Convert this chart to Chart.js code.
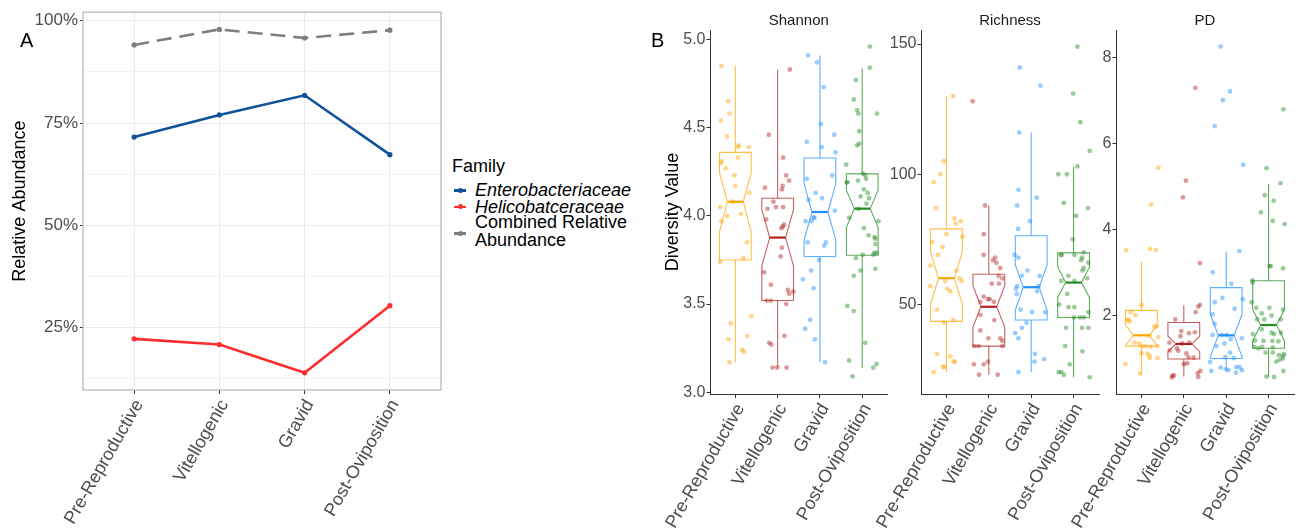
<!DOCTYPE html>
<html>
<head>
<meta charset="utf-8">
<script src="https://cdn.jsdelivr.net/npm/chart.js@4.4.1/dist/chart.umd.min.js"></script>
<style>
  body { margin: 0; background: #fff; width: 1298px; height: 528px; overflow: hidden; position: relative;
         font-family: "Liberation Sans", Arial, sans-serif; }
  canvas { position: absolute; top: 0; }
  .txt { position: absolute; white-space: nowrap; font-size: 18px; line-height: 18px; color: #000; }
  .tag { position: absolute; font-size: 20px; line-height: 20px; color: #000; }
  .key { position: absolute; left: 454px; width: 12px; height: 2.5px; }
  .key i { position: absolute; left: 3.5px; top: -1.5px; width: 5px; height: 5px; border-radius: 50%; background: inherit; }
</style>
</head>
<body>
<canvas id="chartA" style="left:0" width="445" height="528"></canvas>
<canvas id="shannon" style="left:640px" width="250" height="528"></canvas>
<canvas id="richness" style="left:866px" width="236" height="528"></canvas>
<canvas id="pd" style="left:1060px" width="238" height="528"></canvas>

<div class="tag" style="left:20px;top:30px">A</div>
<div class="tag" style="left:651px;top:30px">B</div>

<div class="txt" style="left:452px;top:157px">Family</div>
<div class="key" style="top:189px;background:#10529a"><i></i></div>
<div class="txt" style="left:475px;top:181px;font-style:italic">Enterobacteriaceae</div>
<div class="key" style="top:205.5px;background:#ff2e2e"><i></i></div>
<div class="txt" style="left:475px;top:198px;font-style:italic">Helicobatceraceae</div>
<div class="key" style="top:232px;background:#7f7f7f"><i></i></div>
<div class="txt" style="left:475px;top:213px">Combined Relative</div>
<div class="txt" style="left:475px;top:231px">Abundance</div>

<script>
Chart.defaults.font.family = '"Liberation Sans", Arial, sans-serif';

// ---- data ----
const stages = ['Pre-Reproductive', 'Vitellogenic', 'Gravid', 'Post-Oviposition'];

// panel A, % relative abundance
const enteroPct = [71.6, 77.0, 81.8, 67.3];
const helicoPct = [22.3, 20.9, 14.0, 30.4];
const combinedPct = [94.1, 97.9, 95.8, 97.7];

// box stats per stage: [whisker low, q1, notch low, median, notch high, q3, whisker high]
const shannonBox = [
  [3.17, 3.75, 3.91, 4.08, 4.245, 4.36, 4.85],
  [3.14, 3.52, 3.715, 3.877, 4.035, 4.10, 4.83],
  [3.17, 3.77, 3.864, 4.022, 4.182, 4.328, 4.91],
  [3.136, 3.777, 3.935, 4.041, 4.146, 4.238, 4.836]
];
const richnessBox = [
  [24, 43.5, 50.1, 60.1, 70.2, 79, 130],
  [23, 34, 41.2, 49.1, 57.2, 61.6, 88],
  [24, 44, 47.8, 56.6, 65.2, 76.4, 116],
  [22, 45, 52.7, 58.4, 64.4, 69.8, 103]
];
const pdBox = [
  [0.64, 1.28, 1.29, 1.53, 1.77, 2.11, 3.24],
  [0.57, 0.98, 1.15, 1.33, 1.51, 1.83, 2.23],
  [0.72, 0.99, 1.03, 1.53, 2.02, 2.64, 3.48],
  [0.56, 1.23, 1.40, 1.77, 2.13, 2.80, 5.06]
];

// samples (values) and their horizontal jitter (category units)
const shannonVals = [
  [4.85,4.65,4.58,4.54,4.45,4.40,4.39,4.39,4.31,4.30,4.33,4.27,4.23,4.17,4.13,4.08,4.05,4.01,4.00,3.97,3.85,3.76,3.74,3.39,3.43,3.30,3.32,3.24,3.23,3.17],
  [4.83,4.46,4.33,4.23,4.20,4.17,4.15,4.16,4.08,4.04,4.05,4.05,3.98,3.95,3.94,3.93,3.82,3.77,3.68,3.61,3.58,3.56,3.57,3.52,3.52,3.50,3.32,3.28,3.27,3.14,3.14,3.14],
  [4.91,4.87,4.73,4.52,4.42,4.39,4.46,4.36,4.21,4.23,4.13,4.10,4.09,4.03,3.99,3.99,3.97,3.97,3.85,3.85,3.83,3.75,3.69,3.64,3.59,3.41,3.36,3.30,3.17],
  [4.96,4.84,4.77,4.66,4.60,4.58,4.58,4.48,4.41,4.40,4.29,4.24,4.23,4.21,4.19,4.19,4.20,4.15,4.13,4.11,4.10,4.07,4.04,3.99,3.97,3.93,3.89,3.88,3.87,3.84,3.79,3.78,3.79,3.76,3.78,3.69,3.70,3.66,3.49,3.46,3.28,3.18,3.16,3.14,3.09]
];
const shannonJit = [
  [-0.33,-0.17,-0.14,-0.34,-0.2,0.08,0.06,0.32,-0.33,-0.34,0.06,-0.23,-0.02,0,0.33,-0.06,-0.36,0.13,-0.19,-0.33,0.27,0.19,-0.36,-0.11,0.38,-0.16,0.28,0.16,0.2,-0.14],
  [0.29,-0.21,0.13,0.2,0.27,0.12,0.1,-0.3,-0.1,-0.24,-0.04,0.13,-0.27,0.15,0.12,0.09,0.1,0.07,-0.32,-0.16,0.24,0.27,0.37,-0.26,-0.16,0.2,0.16,-0.2,-0.15,-0.12,-0.01,0.21],
  [-0.28,-0.07,0.09,0.02,-0.31,0.04,0.34,0.37,-0.31,0.29,-0.1,0.05,-0.27,0.35,-0.15,-0.13,-0.34,-0.2,0.14,-0.29,0.1,-0.02,-0.21,-0.4,-0.15,-0.23,-0.35,-0.12,0.12],
  [0.18,0.18,-0.15,-0.2,-0.12,-0.09,0.35,-0.07,-0.07,-0.12,-0.38,0.02,0.07,0.09,-0.35,-0.37,-0.1,0.04,0.13,-0.04,0.16,0.1,-0.09,-0.31,0.38,0.04,0.15,0.29,0.31,0.31,0.34,0.26,0.29,-0.15,0.01,-0.04,0.31,-0.2,-0.35,-0.2,0.07,-0.31,0.34,0.26,-0.23]
];
const richnessVals = [
  [130,105,100,97,87,83,82,81,77,74,76,72,69,65,63,60,59,59,57,56,55,48,44,43,31,30,28,28,26,26,24],
  [128,88,77,69,68,67,66,64,61,60,58,58,52,52,51,53,51,46,44,40,37,36,37,34,34,34,28,27,27,23,23],
  [141,134,116,94,91,88,82,79,69,68,63,61,61,57,57,56,55,54,48,47,47,43,41,39,37,31,29,28,24],
  [149,131,120,109,103,100,100,89,87,84,75,70,69,69,68,67,69,66,64,63,61,60,59,59,54,50,49,49,45,45,45,47,41,41,41,34,32,27,24,24,23,22]
];
const richnessJit = [
  [0.16,-0.06,-0.14,-0.3,-0.25,0.19,0.34,0.22,0,-0.34,0.38,-0.09,-0.2,-0.38,0.23,0.31,0.36,-0.03,-0.39,0.02,0.09,-0.22,0.16,-0.06,-0.22,0.09,0.2,0.17,-0.08,-0.05,-0.3],
  [-0.38,-0.09,-0.12,-0.12,0.15,0.1,0.18,0.27,0.23,0.32,0.24,0.07,0.02,-0.02,0.12,-0.12,-0.2,-0.2,0.13,-0.2,0.27,0.32,-0.01,-0.34,-0.24,0.32,-0.02,-0.35,-0.12,-0.23,0.21],
  [-0.27,0.22,-0.28,-0.3,0.13,-0.33,-0.03,-0.31,-0.39,-0.3,-0.09,-0.22,0.2,-0.33,0.17,-0.36,0.14,-0.34,-0.25,0.02,0.33,-0.11,-0.22,-0.38,-0.3,0.09,0.31,0.08,-0.3],
  [0.09,-0.01,0.16,0.38,0.09,-0.36,-0.16,-0.23,0.34,0.06,-0.02,0.24,-0.28,0.02,0.2,0.18,-0.3,0.35,0.24,0.21,-0.12,0.32,-0.29,0.02,-0.15,-0.34,-0.12,0.02,0.15,0.24,0.01,0.35,-0.18,0.2,0.35,-0.2,0.21,-0.09,-0.35,-0.29,-0.23,0.38]
];
const pdVals = [
  [5.43,4.57,3.51,3.54,3.52,2.24,2.07,2.00,1.90,1.88,1.85,1.74,1.73,1.53,1.36,1.34,1.49,1.28,1.28,1.28,1.26,1.10,1.06,1.11,1.00,1.00,0.86,0.64],
  [7.29,5.13,4.74,3.21,2.24,2.20,2.07,1.90,1.63,1.58,1.60,1.36,1.23,1.34,1.36,1.51,1.18,1.17,1.11,1.01,1.02,0.86,0.88,0.70,0.65,0.56,0.59,0.60,0.55],
  [8.25,7.21,7.00,6.40,5.50,3.49,3.00,2.73,2.37,2.30,2.40,2.15,2.02,1.80,1.46,1.54,1.54,1.44,1.54,1.34,1.28,1.13,1.02,1.00,0.91,0.74,0.72,0.79,0.79,0.72,0.66,0.70,0.78],
  [6.79,5.42,5.07,4.79,4.66,4.39,4.19,4.12,3.14,3.14,3.09,2.81,2.76,2.30,2.17,2.17,2.13,2.04,1.99,1.90,1.90,1.90,1.67,1.59,1.56,1.56,1.59,1.41,1.40,1.40,1.39,1.26,1.26,1.23,1.25,1.13,1.13,1.07,1.09,1.05,0.99,0.96,0.92,0.70,0.57,0.56]
];
const pdJit = [
  [0.4,0.23,-0.36,0.2,0.34,0,-0.25,-0.14,-0.3,-0.34,-0.28,0.31,0.36,0.19,-0.16,-0.05,0.4,0.38,0.02,0.11,0.22,0.14,0.19,0,0.19,0.38,-0.38,-0.03],
  [0.27,0.05,-0.02,0.38,0.38,0.34,0.28,-0.2,-0.06,0.12,0.26,-0.34,-0.16,-0.04,0.13,-0.08,-0.33,-0.13,0.06,0.23,0.11,0,0.08,0.39,0.33,0.34,-0.27,-0.23,-0.28],
  [-0.13,0.09,-0.08,-0.27,0.4,0.31,-0.32,0.12,0.39,-0.27,-0.09,0.2,-0.32,-0.27,0.37,-0.32,-0.1,0.11,0.01,-0.04,-0.23,0.09,-0.02,0.18,-0.38,-0.01,0.05,0.24,0.32,0.37,0.23,-0.35,-0.13],
  [0.35,-0.05,0.28,-0.09,0.12,-0.18,0.1,0.38,0.02,0.05,0.34,-0.38,-0.38,-0.4,-0.29,0.02,0.34,-0.16,0.07,-0.1,-0.27,0.29,-0.16,0.07,-0.37,0.13,0.29,-0.32,-0.12,0.09,0.23,-0.34,-0.15,-0.24,0.1,-0.07,0.1,0.24,0.37,0.33,0.34,0.26,0.18,0.35,-0.05,0.13]
];

const pctTicks = [12.5, 25, 37.5, 50, 62.5, 75, 87.5, 100];
const shannonTicks = [3.0, 3.5, 4.0, 4.5, 5.0];
const richnessTicks = [50, 100, 150];
const pdTicks = [2, 4, 6, 8];

// ---- styling ----
const stageRGB = ['255,165,0', '178,34,34', '30,144,255', '34,139,34'];
const tickGrey = '#4d4d4d';

function stageLabel(v) { return stages[v] !== undefined ? stages[v] : ''; }
function fixTicks(values) {
  return function (scale) { scale.ticks = values.map(v => ({ value: v })); };
}
function asPoints(arr) { return arr.map((v, i) => ({ x: i, y: v })); }

const panelBorder = {
  id: 'panelBorder',
  afterDraw(chart) {
    const { ctx, chartArea: a } = chart;
    ctx.save();
    ctx.strokeStyle = '#b3b3b3';
    ctx.lineWidth = 1.2;
    ctx.strokeRect(a.left, a.top, a.right - a.left, a.bottom - a.top);
    ctx.restore();
  }
};

// ---- panel A ----
function lineSet(values, color, dash) {
  return {
    data: asPoints(values),
    borderColor: color, backgroundColor: color,
    borderWidth: 2.6, borderDash: dash || [],
    pointRadius: 2.6, pointBorderWidth: 0, pointHoverRadius: 2.6
  };
}

new Chart(document.getElementById('chartA'), {
  type: 'line',
  data: {
    datasets: [
      lineSet(enteroPct, '#10529a'),
      lineSet(helicoPct, '#ff2e2e'),
      lineSet(combinedPct, '#7f7f7f', [15, 8])
    ]
  },
  options: {
    responsive: false, animation: false,
    layout: { padding: { top: 10, right: 4 } },
    plugins: { legend: { display: false }, tooltip: { enabled: false } },
    scales: {
      x: {
        type: 'linear', min: -0.6, max: 3.6,
        afterBuildTicks: fixTicks([0, 1, 2, 3]),
        afterFit: s => { s.height = 138; s.paddingLeft = 0; s.paddingRight = 0; },
        ticks: { callback: stageLabel, autoSkip: false, minRotation: 60, maxRotation: 60,
                 color: tickGrey, font: { size: 18 }, padding: 2, labelOffset: 5 },
        grid: { color: '#ebebeb', tickColor: '#333', tickLength: 4 },
        border: { display: false }
      },
      y: {
        min: 9.8, max: 102.1,
        afterBuildTicks: fixTicks(pctTicks),
        afterFit: s => { s.width = 83; },
        ticks: { callback: v => (v % 25 === 0 ? v + '%' : ''), color: tickGrey, font: { size: 17 }, padding: 2 },
        grid: {
          color: '#ebebeb',
          lineWidth: c => (c.tick && c.tick.value % 25 !== 0 ? 0.6 : 1),
          tickColor: c => (c.tick && c.tick.value % 25 !== 0 ? 'rgba(0,0,0,0)' : '#333'),
          tickLength: 3
        },
        border: { display: false },
        title: { display: true, text: 'Relative Abundance', color: '#000', font: { size: 18 }, padding: { top: 9, bottom: 0 } }
      }
    }
  },
  plugins: [panelBorder]
});

// ---- panel B ----
function makeBoxPlugin(stats) {
  return {
    id: 'notchBox',
    beforeDatasetsDraw(chart) {
      const { ctx, scales: { x, y } } = chart;
      stats.forEach((s, i) => {
        const [wLo, q1, nLo, med, nHi, q3, wHi] = s.map(v => y.getPixelForValue(v));
        const xl = x.getPixelForValue(i - 0.375), xr = x.getPixelForValue(i + 0.375);
        const xc = x.getPixelForValue(i), ind = (xr - xl) * 0.25;
        ctx.save();
        ctx.strokeStyle = 'rgba(' + stageRGB[i] + ',0.72)';
        ctx.lineWidth = 1.1;
        ctx.beginPath();
        ctx.moveTo(xc, q3); ctx.lineTo(xc, wHi);
        ctx.moveTo(xc, q1); ctx.lineTo(xc, wLo);
        ctx.stroke();
        ctx.beginPath();
        ctx.moveTo(xl, q3); ctx.lineTo(xl, nHi); ctx.lineTo(xl + ind, med); ctx.lineTo(xl, nLo); ctx.lineTo(xl, q1);
        ctx.lineTo(xr, q1); ctx.lineTo(xr, nLo); ctx.lineTo(xr - ind, med); ctx.lineTo(xr, nHi); ctx.lineTo(xr, q3);
        ctx.closePath();
        ctx.fillStyle = '#fff';
        ctx.fill();
        ctx.stroke();
        ctx.strokeStyle = 'rgb(' + stageRGB[i] + ')';
        ctx.lineWidth = 2.2;
        ctx.beginPath();
        ctx.moveTo(xl + ind, med); ctx.lineTo(xr - ind, med);
        ctx.stroke();
        ctx.restore();
      });
    }
  };
}

function diversityChart(id, title, vals, jits, stats, yMin, yMax, yTicks, fmt, yWidth, padRight, yTitle) {
  const datasets = vals.map((arr, i) => ({
    data: arr.map((v, k) => ({ x: i + jits[i][k], y: v })),
    backgroundColor: 'rgba(' + stageRGB[i] + ',0.45)',
    pointRadius: 2.4, pointBorderWidth: 0, pointHoverRadius: 2.4
  }));
  return new Chart(document.getElementById(id), {
    type: 'scatter',
    data: { datasets },
    options: {
      responsive: false, animation: false,
      layout: { padding: { right: padRight } },
      plugins: {
        legend: { display: false }, tooltip: { enabled: false },
        title: { display: true, text: title, fullSize: false, color: '#1a1a1a',
                 font: { size: 15, weight: 'normal' }, padding: { top: 12, bottom: 0 } }
      },
      scales: {
        x: {
          type: 'linear', min: -0.6, max: 3.6,
          afterBuildTicks: fixTicks([0, 1, 2, 3]),
          afterFit: s => { s.height = 134; s.paddingLeft = 0; s.paddingRight = 0; },
          ticks: { callback: stageLabel, autoSkip: false, minRotation: 60, maxRotation: 60,
                   color: tickGrey, font: { size: 18 }, padding: 2, labelOffset: 5 },
          grid: { drawOnChartArea: false, tickColor: '#333', tickLength: 4 },
          border: { display: true, color: '#333', width: 1 }
        },
        y: {
          min: yMin, max: yMax,
          afterBuildTicks: fixTicks(yTicks),
          afterFit: s => { s.width = yWidth; },
          ticks: { callback: fmt, color: tickGrey, font: { size: 16 }, padding: 1 },
          grid: { drawOnChartArea: false, tickColor: '#333', tickLength: 3.5 },
          border: { display: true, color: '#333', width: 1 },
          title: { display: !!yTitle, text: yTitle || '', color: '#000', font: { size: 18 }, padding: { top: 22, bottom: 0 } }
        }
      }
    },
    plugins: [makeBoxPlugin(stats)]
  });
}

diversityChart('shannon', 'Shannon', shannonVals, shannonJit, shannonBox, 2.99, 5.054, shannonTicks,
  v => v.toFixed(1), 70, 2, 'Diversity Value');
diversityChart('richness', 'Richness', richnessVals, richnessJit, richnessBox, 15.6, 155.4, richnessTicks,
  v => String(v), 55, 3, null);
diversityChart('pd', 'PD', pdVals, pdJit, pdBox, 0.165, 8.635, pdTicks,
  v => String(v), 56, 4, null);
</script>
</body>
</html>
